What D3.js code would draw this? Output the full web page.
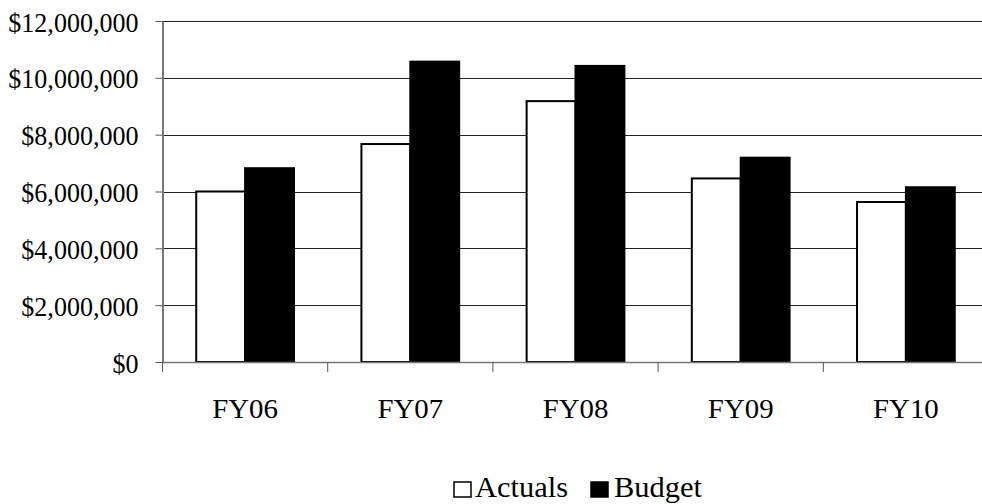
<!DOCTYPE html>
<html>
<head>
<meta charset="utf-8">
<script src="https://cdn.jsdelivr.net/npm/d3@7"></script>
<style>
  html, body { margin: 0; padding: 0; background: #fff; }
  svg { display: block; font-family: "Liberation Serif", "Times New Roman", serif; }
</style>
</head>
<body>
<svg id="chart" width="982" height="504"></svg>
<script>
// Fiscal-year spending: actuals vs. budget
const categories = ["FY06", "FY07", "FY08", "FY09", "FY10"];
const seriesNames = ["Actuals", "Budget"];
const actuals = [6000000, 7670000, 9180000, 6460000, 5630000];
const budget  = [6820000, 10570000, 10420000, 7190000, 6150000];
const yTicks  = [0, 2000000, 4000000, 6000000, 8000000, 10000000, 12000000];

const svg = d3.select("#chart");
const plot = { left: 162.5, right: 988.5, top: 21, bottom: 362 };

const x = d3.scaleBand().domain(categories).range([plot.left, plot.right]).padding(0);
const xInner = d3.scaleBand().domain(seriesNames).range([0, x.bandwidth()])
  .paddingInner(0).paddingOuter(0.69);
const y = d3.scaleLinear().domain([0, 12000000]).range([plot.bottom, plot.top]);

const fmt = v => "$" + d3.format(",")(v);

// narrow the serif glyphs a little, like the condensed labels of the original sheet
function condense(sel, factor) {
  sel.each(function () {
    const w = this.getComputedTextLength();
    d3.select(this).attr("textLength", w * factor).attr("lengthAdjust", "spacingAndGlyphs");
  });
}

// horizontal gridlines
svg.append("g")
  .selectAll("line")
  .data(yTicks.filter(d => d > 0))
  .join("line")
  .attr("x1", plot.left).attr("x2", 982)
  .attr("y1", d => Math.round(y(d)) + 0.5).attr("y2", d => Math.round(y(d)) + 0.5)
  .attr("stroke", "#222").attr("stroke-width", 1);

// bars
const rows = categories.map((c, i) => ({ cat: c, values: [
  { key: "Actuals", value: actuals[i] },
  { key: "Budget", value: budget[i] }
]}));

const groups = svg.append("g").selectAll("g")
  .data(rows).join("g")
  .attr("transform", d => `translate(${x(d.cat)},0)`);

groups.selectAll("rect")
  .data(d => d.values).join("rect")
  .attr("x", d => xInner(d.key))
  .attr("y", d => y(d.value))
  .attr("width", xInner.bandwidth())
  .attr("height", d => y(0) - y(d.value))
  .attr("fill", d => d.key === "Actuals" ? "#fff" : "#000")
  .attr("stroke", "#000")
  .attr("stroke-width", 2);

// y axis
const yAxis = d3.axisLeft(y).tickValues(yTicks).tickFormat(fmt)
  .tickSize(7).tickSizeOuter(0).tickPadding(17);
const gy = svg.append("g").attr("transform", `translate(${plot.left},0)`).call(yAxis);
gy.select(".domain").attr("stroke", "#777").attr("stroke-width", 2);
gy.selectAll(".tick line").attr("stroke", "#555");
gy.selectAll(".tick text")
  .attr("font-size", 28)
  .attr("fill", "#000")
  .attr("dy", "0.36em")
  .attr("font-family", "Liberation Serif, Times New Roman, serif")
  .call(condense, 0.93);

// x axis with ticks at category boundaries
const gx = svg.append("g").attr("transform", `translate(0,${plot.bottom})`);
gx.append("line")
  .attr("x1", plot.left).attr("x2", 982)
  .attr("y1", 0.5).attr("y2", 0.5)
  .attr("stroke", "#777").attr("stroke-width", 1.5);
gx.selectAll("line.tick")
  .data(categories.map(c => x(c)))
  .join("line").attr("class", "tick")
  .attr("x1", d => d).attr("x2", d => d)
  .attr("y1", 0).attr("y2", 10)
  .attr("stroke", "#555");
gx.selectAll("text")
  .data(categories).join("text")
  .attr("x", d => x(d) + x.bandwidth() / 2)
  .attr("y", 56)
  .attr("text-anchor", "middle")
  .attr("font-size", 28)
  .text(d => d)
  .call(condense, 1.03);

// legend
const legend = svg.append("g").attr("transform", "translate(454,482)");
const items = [
  { name: "Actuals", fill: "#fff", dx: 0, tx: 21, len: 93 },
  { name: "Budget", fill: "#000", dx: 137, tx: 160, len: 88 }
];
items.forEach(it => {
  legend.append("rect")
    .attr("x", it.dx).attr("y", 0)
    .attr("width", 17).attr("height", 15)
    .attr("fill", it.fill).attr("stroke", "#000").attr("stroke-width", 1.5);
  legend.append("text")
    .attr("x", it.tx).attr("y", 15)
    .attr("font-size", 29)
    .attr("textLength", it.len)
    .attr("lengthAdjust", "spacingAndGlyphs")
    .text(it.name);
});
</script>
</body>
</html>
